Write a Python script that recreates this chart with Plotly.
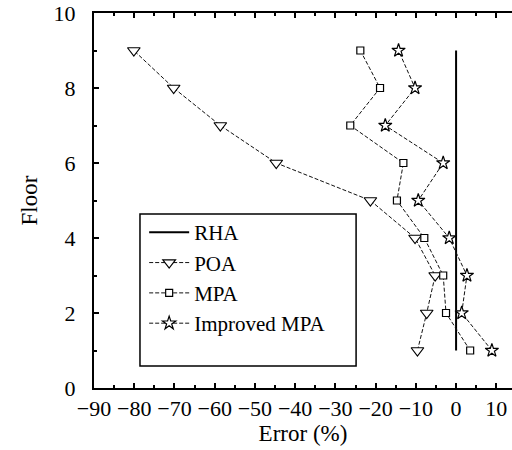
import plotly.graph_objects as go

floors = [1, 2, 3, 4, 5, 6, 7, 8, 9]
rha = [0, 0, 0, 0, 0, 0, 0, 0, 0]
poa = [-9.6, -7.3, -5.2, -10.2, -21.3, -44.7, -58.6, -70.2, -80.1]
mpa = [3.5, -2.5, -3.2, -7.9, -14.7, -13.1, -26.3, -18.9, -23.8]
impa = [8.9, 1.4, 2.7, -1.7, -9.4, -3.2, -17.6, -10.2, -14.3]

x_ticks = [-90, -80, -70, -60, -50, -40, -30, -20, -10, 0, 10]
y_ticks = [0, 2, 4, 6, 8, 10]

FONT = "Liberation Serif, Times New Roman, serif"
BLACK = "#000000"
dash_line = dict(color="#111111", width=1, dash="4px,2px")

fig = go.Figure()
fig.add_trace(go.Scatter(x=rha, y=floors, mode="lines", name="RHA",
                         line=dict(color=BLACK, width=2)))
fig.add_trace(go.Scatter(x=poa, y=floors, mode="lines+markers", name="POA",
                         line=dash_line,
                         marker=dict(symbol="triangle-down", size=11, color="white",
                                     line=dict(color=BLACK, width=1.2))))
fig.add_trace(go.Scatter(x=mpa, y=floors, mode="lines+markers", name="MPA",
                         line=dash_line,
                         marker=dict(symbol="square", size=7, color="white",
                                     line=dict(color=BLACK, width=1.2))))
fig.add_trace(go.Scatter(x=impa, y=floors, mode="lines+markers",
                         name="Improved MPA",
                         line=dash_line,
                         marker=dict(symbol="star", size=10, color="white",
                                     line=dict(color=BLACK, width=1.2))))

axis_common = dict(
    showgrid=False, zeroline=False, showline=True, linecolor=BLACK, linewidth=2,
    ticks="inside", ticklen=5, tickwidth=1.5, tickcolor=BLACK,
    tickfont=dict(family=FONT, size=22, color=BLACK),
)

fig.update_xaxes(
    **axis_common, range=[-90, 13.9], tickvals=x_ticks, mirror="ticks",
    minor=dict(ticks="inside", ticklen=3, tickwidth=1.5, tickcolor=BLACK, dtick=5, tick0=0),
    title=dict(text="Error (%)", font=dict(family=FONT, size=23, color=BLACK), standoff=4),
)
fig.update_yaxes(
    **axis_common, range=[0, 10], tickvals=y_ticks, mirror=False,
    minor=dict(ticks="inside", ticklen=3, tickwidth=1.5, tickcolor=BLACK, dtick=1, tick0=0),
    ticklabelstandoff=12,
    title=dict(text="Floor", font=dict(family=FONT, size=23, color=BLACK), standoff=10),
)

# legend frame (drawn as a box behind the legend entries)
fig.add_shape(type="rect", xref="paper", yref="paper",
              x0=0.110, x1=0.627, y0=0.059, y1=0.464,
              line=dict(color=BLACK, width=1.5), fillcolor="white", layer="below")

fig.update_layout(
    width=512, height=450,
    margin=dict(l=94, r=0, t=13, b=62),
    paper_bgcolor="white", plot_bgcolor="white",
    font=dict(family=FONT, size=21, color=BLACK),
    showlegend=True,
    legend=dict(x=0.12, y=0.469, xanchor="left", yanchor="top",
                bgcolor="rgba(0,0,0,0)", borderwidth=0,
                font=dict(family=FONT, size=21, color=BLACK),
                tracegroupgap=0, itemwidth=40),
)

fig.write_html("out.html")
